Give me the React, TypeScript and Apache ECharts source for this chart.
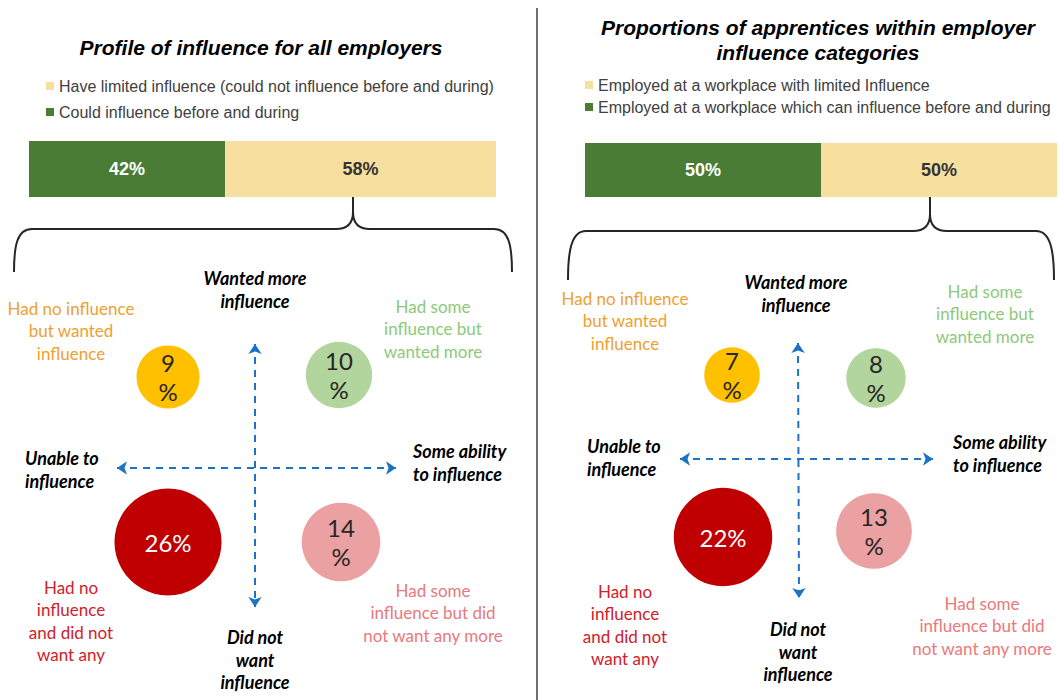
import React, { useEffect, useRef } from "react";
import * as echarts from "echarts";

// ---------- data ----------
const employerBarNames = [
  "Could influence before and during",
  "Have limited influence (could not influence before and during)",
];
const employerBarValues = [42, 58];
const apprenticeBarNames = [
  "Employed at a workplace which can influence before and during",
  "Employed at a workplace with limited Influence",
];
const apprenticeBarValues = [50, 50];

const abilityCategories = ["Unable to influence", "Some ability to influence"];
const wantCategories = ["Did not want influence", "Wanted more influence"];
// quadrant order: no-influence/wanted, some/wanted-more, no-influence/did-not-want, some/did-not-want-more
const quadrantAbility = [0, 1, 0, 1];
const quadrantWant = [1, 1, 0, 0];
const quadrantLabels = [
  "Had no influence\nbut wanted\ninfluence",
  "Had some\ninfluence but\nwanted more",
  "Had no\ninfluence\nand did not\nwant any",
  "Had some\ninfluence but did\nnot want any more",
];
const employerShares = [9, 10, 26, 14];
const apprenticeShares = [7, 8, 22, 13];

const axisTexts = {
  up: "Wanted more\ninfluence",
  down: "Did not\nwant\ninfluence",
  left: "Unable to\ninfluence",
  right: "Some ability\nto influence",
};

const titles = [
  "Profile of influence for all employers",
  "Proportions of apprentices within employer\ninfluence categories",
];

// ---------- styles ----------
const GREEN = "#4A7C36";
const YELLOW = "#F7DFA0";
const BLUE = "#1B73C6";
const bubbleColors = ["#FFC000", "#B1D59C", "#C00000", "#EBA1A1"];
const bubbleTextColors = ["#262626", "#262626", "#FFFFFF", "#262626"];
const labelColors = ["#F0A030", "#8CC97A", "#D0202A", "#EA787C"];
const employerNudges = [[0, 1], [-1, -1], [0, 0], [1, 0]];
const apprenticeNudges = [[0, -1], [0, 2], [-9, 3], [-2, -3]];

const braceLeftPath =
  "M14,272 C14,246 17,229 32,229 L336,229 C347,229 353,224 353,212 L353,181 M353,212 C353,224 359,229 370,229 L494,229 C509,229 512,246 512,272";
const braceRightPath =
  "M568,280 C568,252 571,231 586,231 L913,231 C924,231 930,226 930,214 L930,183 M930,214 C930,226 936,231 947,231 L1036,231 C1051,231 1054,252 1054,280";

echarts.graphic.registerShape("braceLeft", echarts.graphic.extendPath(braceLeftPath, {}));
echarts.graphic.registerShape("braceRight", echarts.graphic.extendPath(braceRightPath, {}));

const LABEL_FONT = "Lato";

function quadText(text: string, x: number, y: number, color: string) {
  return {
    type: "text",
    x,
    y,
    silent: true,
    style: {
      text,
      fill: color,
      font: `17px ${LABEL_FONT}`,
      lineHeight: 22.5,
      align: "center",
      verticalAlign: "top",
    },
  };
}

function axisText(text: string, x: number, y: number, align: string) {
  return {
    type: "text",
    x,
    y,
    silent: true,
    style: {
      text,
      fill: "#000000",
      font: `italic bold 18px ${LABEL_FONT}`,
      lineHeight: 22.5,
      align,
      verticalAlign: "top",
    },
  };
}

function bubbleSeries(shares: number[], nudges: number[][], axisIdx: number, name: string, arrows: any[]) {
  return {
    type: "scatter",
    name,
    xAxisIndex: axisIdx,
    yAxisIndex: axisIdx,
    symbolSize: (d: number[]) => 21 * Math.sqrt(d[2]),
    data: shares.map((v, i) => ({
      value: [quadrantAbility[i], quadrantWant[i], v],
      symbolOffset: nudges[i],
      itemStyle: { color: bubbleColors[i], opacity: 1 },
      label: { color: bubbleTextColors[i] },
    })),
    label: {
      show: true,
      position: "inside",
      fontFamily: LABEL_FONT,
      fontSize: 24,
      lineHeight: 29,
      formatter: (p: any) => {
        const v = p.value[2];
        return v >= 20 ? `${v}%` : `${v}\n%`;
      },
    },
    markLine: {
      silent: true,
      symbol: ["arrow", "arrow"],
      symbolSize: 10,
      label: { show: false },
      lineStyle: { color: BLUE, type: [7, 6], width: 2 },
      data: arrows,
    },
  };
}

function barSeries(name: string, value: number, idx: number, color: string, textColor: string, stack: string) {
  return {
    type: "bar",
    name,
    stack,
    xAxisIndex: idx,
    yAxisIndex: idx,
    barWidth: "100%",
    data: [value],
    itemStyle: { color },
    label: {
      show: true,
      position: "inside",
      formatter: "{c}%",
      fontFamily: "Liberation Sans",
      fontWeight: "bold",
      fontSize: 18,
      color: textColor,
    },
  };
}

export default function App() {
  const ref = useRef<HTMLDivElement>(null);

  useEffect(() => {
    if (!ref.current) return;
    const chart = echarts.init(ref.current, null, { renderer: "svg" });

    const legendCommon = {
      orient: "vertical",
      icon: "rect",
      itemWidth: 8,
      itemHeight: 8,
      padding: 0,
      selectedMode: false,
      textStyle: { fontFamily: "Liberation Sans", fontSize: 16, color: "#404040", lineHeight: 16 },
    };

    const option: any = {
      animation: false,
      backgroundColor: "#FFFFFF",
      legend: [
        { ...legendCommon, left: 46, top: 78, itemGap: 10, data: [employerBarNames[1], employerBarNames[0]] },
        { ...legendCommon, left: 585, top: 77, itemGap: 6, data: [apprenticeBarNames[1], apprenticeBarNames[0]] },
      ],
      grid: [
        { left: 29, top: 141, width: 467, height: 56 },
        { left: 585, top: 143, width: 472, height: 54 },
        { left: 82, top: 293, width: 344, height: 332 },
        { left: 660, top: 297, width: 288, height: 316 },
      ],
      xAxis: [
        { type: "value", gridIndex: 0, min: 0, max: 100, show: false },
        { type: "value", gridIndex: 1, min: 0, max: 100, show: false },
        { type: "category", gridIndex: 2, data: abilityCategories, show: false },
        { type: "category", gridIndex: 3, data: abilityCategories, show: false },
      ],
      yAxis: [
        { type: "category", gridIndex: 0, data: ["Employers"], show: false },
        { type: "category", gridIndex: 1, data: ["Apprentices"], show: false },
        { type: "category", gridIndex: 2, data: wantCategories, show: false },
        { type: "category", gridIndex: 3, data: wantCategories, show: false },
      ],
      series: [
        barSeries(employerBarNames[0], employerBarValues[0], 0, GREEN, "#FFFFFF", "emp"),
        barSeries(employerBarNames[1], employerBarValues[1], 0, YELLOW, "#333333", "emp"),
        barSeries(apprenticeBarNames[0], apprenticeBarValues[0], 1, GREEN, "#FFFFFF", "app"),
        barSeries(apprenticeBarNames[1], apprenticeBarValues[1], 1, YELLOW, "#333333", "app"),
        bubbleSeries(employerShares, employerNudges, 2, "Employers by influence", [
          [{ x: 117, y: 468 }, { x: 396, y: 468 }],
          [{ x: 255, y: 344 }, { x: 255, y: 607 }],
        ]),
        bubbleSeries(apprenticeShares, apprenticeNudges, 3, "Apprentices by influence", [
          [{ x: 680, y: 459 }, { x: 933, y: 459 }],
          [{ x: 798, y: 343 }, { x: 799, y: 598 }],
        ]),
      ],
      graphic: [
        {
          type: "text",
          x: 261,
          y: 37,
          style: {
            text: titles[0],
            font: "italic bold 21px 'Liberation Sans'",
            fill: "#000000",
            align: "center",
            verticalAlign: "top",
          },
        },
        {
          type: "text",
          x: 818,
          y: 15,
          style: {
            text: titles[1],
            font: "italic bold 21px 'Liberation Sans'",
            fill: "#000000",
            lineHeight: 25,
            align: "center",
            verticalAlign: "top",
          },
        },
        {
          type: "line",
          shape: { x1: 537, y1: 8, x2: 537, y2: 700 },
          style: { stroke: "#404040", lineWidth: 1.5 },
        },
        { type: "braceLeft", x: 0, y: 0, style: { fill: "none", stroke: "#262626", lineWidth: 2 } },
        { type: "braceRight", x: 0, y: 0, style: { fill: "none", stroke: "#262626", lineWidth: 2 } },
        // left panel labels
        axisText(axisTexts.up, 255, 267, "center"),
        axisText(axisTexts.down, 255, 626, "center"),
        axisText(axisTexts.left, 25, 447, "left"),
        axisText(axisTexts.right, 413, 440, "left"),
        quadText(quadrantLabels[0], 71, 297, labelColors[0]),
        quadText(quadrantLabels[1], 433, 295, labelColors[1]),
        quadText(quadrantLabels[2], 71, 576, labelColors[2]),
        quadText(quadrantLabels[3], 433, 579, labelColors[3]),
        // right panel labels
        axisText(axisTexts.up, 796, 271, "center"),
        axisText(axisTexts.down, 798, 618, "center"),
        axisText(axisTexts.left, 587, 435, "left"),
        axisText(axisTexts.right, 953, 431, "left"),
        quadText(quadrantLabels[0], 625, 287, labelColors[0]),
        quadText(quadrantLabels[1], 985, 280, labelColors[1]),
        quadText(quadrantLabels[2], 625, 580, labelColors[2]),
        quadText(quadrantLabels[3], 982, 592, labelColors[3]),
      ],
    };

    chart.setOption(option);
    return () => chart.dispose();
  }, []);

  return (
    <div
      ref={ref}
      style={{ position: "fixed", left: 0, top: 0, width: 1059, height: 700, background: "#fff" }}
    />
  );
}
